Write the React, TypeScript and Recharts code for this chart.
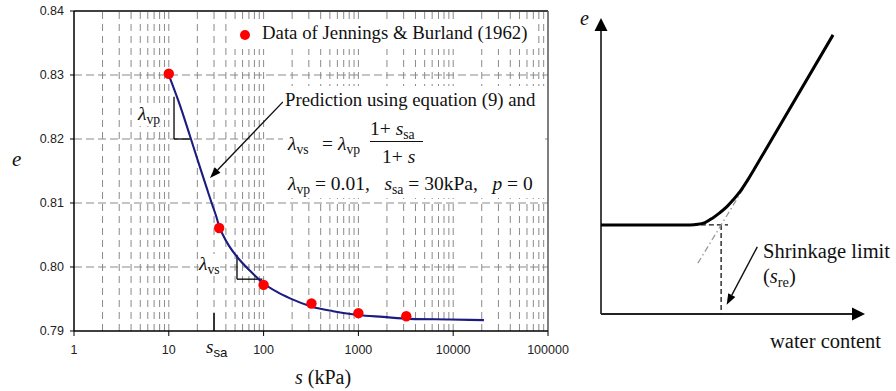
import React from "react";
import { ComposedChart, Line, ReferenceLine, Scatter, XAxis, YAxis } from "recharts";

// left panel: e vs suction (log axis)
const sTicks = [1, 10, 100, 1000, 10000, 100000];
const eTicks = [0.79, 0.8, 0.81, 0.82, 0.83, 0.84];
const gridDecades = [1, 10, 100, 1000, 10000];
const gridSteps = [2, 3, 4, 5, 6, 7, 8, 9, 10];
const gridE = [0.8, 0.81, 0.82, 0.83];

// prediction curve
const curveS = [10, 13.1, 16.7, 21.3, 25.3, 28.6, 31.5, 33.9, 37.3, 43.2, 52.4, 71.9, 98.6, 138.5, 190, 324, 540, 990, 1817, 3500, 9250, 21100];
const curveE = [0.83, 0.8253, 0.8205, 0.8156, 0.8122, 0.8098, 0.808, 0.8064, 0.805, 0.8033, 0.8016, 0.7994, 0.7975, 0.7961, 0.7951, 0.7938, 0.7931, 0.7925, 0.7922, 0.7919, 0.7918, 0.7917];

// Jennings & Burland (1962)
const dataS = [10, 34, 100, 320, 1000, 3200];
const dataE = [0.8302, 0.8061, 0.7972, 0.7943, 0.7928, 0.7923];

// right panel: schematic e vs water content (arbitrary 0-100 units)
const wcX = [0, 33.7, 36.7, 39.4, 42.1, 44.7, 47.4, 50.0, 52.7, 55.3, 58.3, 62.1, 87.9];
const wcE = [30.1, 30.1, 30.3, 30.9, 32.3, 34.0, 36.0, 38.5, 41.4, 44.9, 49.3, 55.1, 94.3];

const predicted = curveS.map((s, i) => ({ s, e: curveE[i] }));
const measured = dataS.map((s, i) => ({ s, e: dataE[i] }));
const schematic = wcX.map((w, i) => ({ w, e: wcE[i] }));
const gridS = gridDecades.flatMap((d) => gridSteps.map((n) => n * d)).filter((v) => v < 100000);

const serif = '"Liberation Serif", "Times New Roman", serif';
const sans = '"Liberation Sans", Arial, sans-serif';

function arrow(color: string, width: number, len: number, head: number) {
  return (p: any) => {
    const { x1, y1, x2, y2 } = p;
    const a = Math.atan2(y2 - y1, x2 - x1);
    const bx = x2 - len * Math.cos(a);
    const by = y2 - len * Math.sin(a);
    const nx = (-Math.sin(a) * head) / 2;
    const ny = (Math.cos(a) * head) / 2;
    return (
      <g>
        <line x1={x1} y1={y1} x2={bx} y2={by} stroke={color} strokeWidth={width} />
        <polygon points={`${x2},${y2} ${bx + nx},${by + ny} ${bx - nx},${by - ny}`} fill="#000" />
      </g>
    );
  };
}

function Note({ x, base, size = 18.5, italic = false, font = serif, bg, children }: any) {
  return (
    <div
      style={{
        position: "absolute",
        left: x,
        top: base - 0.8375 * size,
        fontFamily: font,
        fontSize: size,
        lineHeight: 1,
        fontStyle: italic ? "italic" : "normal",
        whiteSpace: "nowrap",
        color: "#111",
        background: bg,
      }}
    >
      {children}
    </div>
  );
}

const sub = (t: string, font = serif) => (
  <span style={{ fontSize: "0.7em", verticalAlign: "-0.3em", fontStyle: "normal", fontFamily: font }}>{t}</span>
);
const lam = (t: string) => (
  <>
    <i>λ</i>
    {sub(t)}
  </>
);

const tickStyle = { fontSize: 12.5, fill: "#222", fontFamily: sans };

export default function App() {
  return (
    <div style={{ position: "absolute", left: 0, top: 0, width: 896, height: 391, background: "#fff", overflow: "hidden" }}>
      <div style={{ position: "absolute", left: 0, top: 0 }}>
        <ComposedChart width={600} height={391} margin={{ top: 11, right: 52, bottom: 30, left: 0 }}>
          <XAxis
            dataKey="s"
            type="number"
            scale="log"
            domain={[1, 100000]}
            ticks={sTicks}
            interval={0}
            allowDataOverflow
            height={30}
            tickSize={5}
            tickMargin={9}
            tick={tickStyle}
            axisLine={{ stroke: "#000", strokeWidth: 1.5 }}
            tickLine={{ stroke: "#000" }}
          />
          <YAxis
            dataKey="e"
            type="number"
            domain={[0.79, 0.84]}
            ticks={eTicks}
            interval={0}
            allowDataOverflow
            width={74}
            tickSize={4}
            tickMargin={6}
            tick={tickStyle}
            tickFormatter={(v: number) => v.toFixed(2)}
            axisLine={{ stroke: "#000", strokeWidth: 1.5 }}
            tickLine={{ stroke: "#000" }}
          />
          {gridS.map((v) => (
            <ReferenceLine key={`gx${v}`} x={v} stroke="#8a8a8a" strokeDasharray="7 5" />
          ))}
          {gridE.map((v) => (
            <ReferenceLine key={`gy${v}`} y={v} stroke="#8a8a8a" strokeDasharray="8 4" />
          ))}
          <ReferenceLine y={0.84} stroke="#000" strokeWidth={1.5} />
          <ReferenceLine x={100000} stroke="#555" strokeWidth={1.5} />
          <ReferenceLine segment={[{ x: 11.35, y: 0.8266 }, { x: 11.35, y: 0.82 }]} stroke="#000" strokeWidth={1.3} />
          <ReferenceLine segment={[{ x: 11.35, y: 0.82 }, { x: 16.7, y: 0.82 }]} stroke="#000" strokeWidth={1.3} />
          <ReferenceLine segment={[{ x: 52.4, y: 0.8019 }, { x: 52.4, y: 0.7981 }]} stroke="#000" strokeWidth={1.3} />
          <ReferenceLine segment={[{ x: 52.4, y: 0.7981 }, { x: 97, y: 0.7981 }]} stroke="#000" strokeWidth={1.3} />
          <ReferenceLine segment={[{ x: 30, y: 0.79 }, { x: 30, y: 0.7928 }]} stroke="#333" strokeWidth={2} />
          <ReferenceLine
            segment={[{ x: 160, y: 0.8258 }, { x: 27.2, y: 0.8139 }]}
            shape={arrow("#111", 1.4, 11, 8)}
          />
          <Line
            data={predicted}
            dataKey="e"
            type="monotone"
            stroke="#1c1c80"
            strokeWidth={2.1}
            dot={false}
            isAnimationActive={false}
          />
          <Scatter
            data={measured}
            dataKey="e"
            isAnimationActive={false}
            shape={(p: any) => <circle cx={p.cx} cy={p.cy} r={5.2} fill="#ff0000" />}
          />
        </ComposedChart>
      </div>

      <div style={{ position: "absolute", left: 560, top: 0 }}>
        <ComposedChart width={336} height={391} margin={{ top: 18, right: 31, bottom: 77, left: 41 }}>
          <XAxis dataKey="w" type="number" domain={[0, 100]} hide />
          <YAxis dataKey="e" type="number" domain={[0, 100]} hide />
          <ReferenceLine
            segment={[{ x: 0, y: 0 }, { x: 0, y: 100 }]}
            ifOverflow="visible"
            shape={arrow("#444", 2, 13, 13)}
          />
          <ReferenceLine
            segment={[{ x: 0, y: 0 }, { x: 100, y: 0 }]}
            ifOverflow="visible"
            shape={arrow("#222", 2, 13, 13)}
          />
          <ReferenceLine segment={[{ x: 34.8, y: 30.1 }, { x: 48.1, y: 30.1 }]} stroke="#111" strokeDasharray="5 3" strokeWidth={1.3} />
          <ReferenceLine segment={[{ x: 45.5, y: 30.1 }, { x: 45.5, y: 0 }]} stroke="#111" strokeDasharray="5 3" strokeWidth={1.3} />
          <ReferenceLine
            segment={[{ x: 36.7, y: 17.2 }, { x: 56.8, y: 46.6 }]}
            stroke="#999"
            strokeDasharray="6 3 1.5 3"
            strokeWidth={1.3}
          />
          <ReferenceLine
            segment={[{ x: 59.2, y: 22.7 }, { x: 47.6, y: 3.1 }]}
            shape={arrow("#111", 1.4, 11, 8)}
          />
          <Line
            data={schematic}
            dataKey="e"
            type="monotone"
            stroke="#000"
            strokeWidth={3}
            dot={false}
            isAnimationActive={false}
          />
        </ComposedChart>
      </div>

      {/* left panel annotations */}
      <div style={{ position: "absolute", left: 230, top: 21, width: 308, height: 28, background: "#fff" }} />
      <div style={{ position: "absolute", left: 240, top: 30, width: 10.4, height: 10.4, borderRadius: "50%", background: "#ff0000" }} />
      <Note x={262} base={39.5} size={18.8}>Data of Jennings &amp; Burland (1962)</Note>

      <div style={{ position: "absolute", left: 283, top: 86, width: 262, height: 112, background: "#fff" }} />
      <Note x={285} base={107} size={18.8}>Prediction using equation (9) and</Note>
      <Note x={288} base={150} size={19.5}>{lam("vs")}</Note>
      <Note x={322} base={150} size={19.5}>=</Note>
      <Note x={338} base={150} size={19.5}>{lam("vp")}</Note>
      <Note x={370} base={135} size={19.5}>
        1+ <i>s</i>
        {sub("sa")}
      </Note>
      <div style={{ position: "absolute", left: 370, top: 140.5, width: 53, height: 1.2, background: "#111" }} />
      <Note x={382} base={163} size={19.5}>
        1+ <i>s</i>
      </Note>
      <Note x={288} base={190} size={19.5}>
        {lam("vp")} = 0.01,&nbsp;&nbsp; <i>s</i>
        {sub("sa")} = 30kPa,&nbsp;&nbsp; <i>p</i> = 0
      </Note>

      <Note x={138} base={120} size={19.5} bg="#fff">{lam("vp")}</Note>
      <Note x={199} base={270} size={19.5} bg="#fff">{lam("vs")}</Note>
      <Note x={206} base={353} size={19}>
        <i>s</i>
        {sub("sa", sans)}
      </Note>
      <Note x={12} base={167} size={21} italic>e</Note>
      <Note x={295} base={383.5} size={20}>
        <i>s</i> (kPa)
      </Note>

      {/* right panel annotations */}
      <Note x={580} base={25} size={20} italic>e</Note>
      <Note x={763} base={258} size={20.5}>Shrinkage limit</Note>
      <Note x={763} base={283} size={20.5}>
        (<i>s</i>
        {sub("re")})
      </Note>
      <Note x={770} base={348} size={20.5}>water content</Note>
    </div>
  );
}
